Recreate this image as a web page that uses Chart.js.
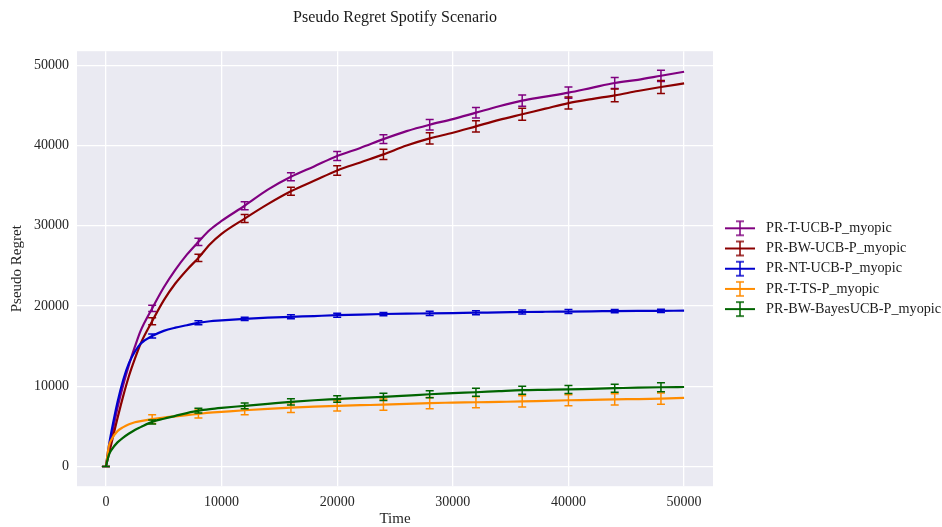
<!DOCTYPE html>
<html>
<head>
<meta charset="utf-8">
<script src="https://cdn.jsdelivr.net/npm/chart.js@4.4.1/dist/chart.umd.min.js"></script>
<style>
  html, body { margin: 0; padding: 0; background: #fff; }
  #wrap { width: 942px; height: 527px; }
</style>
</head>
<body>
<div id="wrap"><canvas id="regretChart" width="942" height="527"></canvas></div>
<script>
// data for pseudo regret (Spotify scenario)

const times = [0, 250, 500, 1000, 1500, 2000, 2500, 3000, 4000, 5000, 6000, 7000, 8000, 9000, 10000,
  12000, 14000, 16000, 18000, 20000, 22000, 24000, 26000, 28000, 30000, 32000, 34000, 36000, 38000,
  40000, 42000, 44000, 46000, 48000, 50000];

const tUcb = [0, 2000, 3800, 7300, 10200, 12700, 14900, 16900, 19700, 22300, 24500, 26400, 28000, 29500, 30600,
  32500, 34500, 36100, 37400, 38700, 39700, 40800, 41800, 42600, 43300, 44100, 44900, 45600, 46100,
  46600, 47200, 47800, 48200, 48700, 49200];

const bwUcb = [0, 1500, 3000, 6000, 8800, 11300, 13400, 15300, 18100, 20700, 22800, 24500, 26000, 27700, 29000,
  30900, 32700, 34300, 35600, 36900, 37900, 38900, 40000, 40900, 41600, 42400, 43200, 43900, 44600,
  45300, 45800, 46250, 46800, 47300, 47750];

const ntUcb = [0, 2500, 4500, 8000, 10800, 12900, 14300, 15300, 16250, 16900, 17300, 17600, 17900, 18100, 18200,
  18400, 18550, 18650, 18750, 18850, 18930, 19000, 19050, 19080, 19120, 19170, 19200, 19250, 19280,
  19300, 19330, 19370, 19390, 19400, 19420];

const tTs = [0, 2500, 3400, 4400, 4900, 5250, 5500, 5650, 5900, 6100, 6250, 6400, 6550, 6700, 6800,
  7000, 7180, 7330, 7450, 7550, 7630, 7700, 7800, 7900, 7950, 8000, 8050, 8100, 8180,
  8250, 8300, 8370, 8400, 8450, 8540];

const bwBayes = [0, 1400, 2100, 3000, 3600, 4100, 4550, 4900, 5550, 5950, 6300, 6650, 6950, 7150, 7300,
  7550, 7800, 8050, 8250, 8400, 8550, 8670, 8830, 9000, 9130, 9250, 9380, 9500, 9550,
  9600, 9680, 9750, 9820, 9870, 9900];

// error bars every 4000 steps (half widths)
const errTimes = [0, 4000, 8000, 12000, 16000, 20000, 24000, 28000, 32000, 36000, 40000, 44000, 48000];
const errTUcb = [0, 400, 450, 500, 500, 550, 550, 650, 650, 700, 700, 700, 700];
const errBwUcb = [0, 450, 450, 500, 500, 600, 650, 700, 700, 750, 750, 800, 800];
const errNtUcb = [0, 250, 250, 200, 250, 250, 200, 250, 250, 250, 250, 200, 200];
const errTTs = [0, 550, 500, 550, 600, 650, 700, 700, 700, 700, 700, 700, 700];
const errBwBayes = [0, 250, 300, 350, 400, 400, 450, 450, 500, 500, 500, 500, 550];

const labels = ['PR-T-UCB-P_myopic', 'PR-BW-UCB-P_myopic', 'PR-NT-UCB-P_myopic', 'PR-T-TS-P_myopic', 'PR-BW-BayesUCB-P_myopic'];
const colors = ['#800080', '#8b0000', '#0000cd', '#ff8c00', '#006400'];
const series = [tUcb, bwUcb, ntUcb, tTs, bwBayes];
const errors = [errTUcb, errBwUcb, errNtUcb, errTTs, errBwBayes];

const xTicks = [0, 10000, 20000, 30000, 40000, 50000];
const yTicks = [0, 10000, 20000, 30000, 40000, 50000];

const FONT = "'Liberation Serif', 'Times New Roman', serif";

// little errorbar icon for the legend (40 wide, icon sits at 6..36)
function legendIcon(color) {
  const c = document.createElement('canvas');
  c.width = 40; c.height = 18;
  const g = c.getContext('2d');
  g.strokeStyle = color;
  g.lineWidth = 2;
  g.beginPath(); g.moveTo(6, 9); g.lineTo(36, 9); g.stroke();
  g.lineWidth = 1.5;
  g.beginPath();
  g.moveTo(21, 2); g.lineTo(21, 16);
  g.moveTo(17, 2); g.lineTo(25, 2);
  g.moveTo(17, 16); g.lineTo(25, 16);
  g.stroke();
  return c;
}

const datasets = series.map((vals, i) => ({
  label: labels[i],
  data: times.map((t, k) => ({x: t, y: vals[k]})),
  borderColor: colors[i],
  backgroundColor: colors[i],
  borderWidth: 2.2,
  pointRadius: 0,
  pointStyle: legendIcon(colors[i]),
  cubicInterpolationMode: 'monotone',
  order: series.length - 1 - i
}));

// plot background like seaborn darkgrid
const bgPlugin = {
  id: 'bg',
  beforeDraw(chart) {
    const {ctx, chartArea: a} = chart;
    ctx.save();
    ctx.fillStyle = '#eaeaf2';
    ctx.fillRect(a.left, a.top, a.right - a.left, a.bottom - a.top);
    ctx.restore();
  }
};

// error bars drawn right after each line
const errPlugin = {
  id: 'errbars',
  afterDatasetDraw(chart, args) {
    const i = args.index;
    const {ctx, scales} = chart;
    const xs = scales.x, ys = scales.y;
    ctx.save();
    ctx.strokeStyle = colors[i];
    ctx.lineWidth = 1.5;
    ctx.beginPath();
    errTimes.forEach((t, k) => {
      const v = series[i][times.indexOf(t)];
      const e = errors[i][k];
      const px = xs.getPixelForValue(t);
      const top = ys.getPixelForValue(v + e);
      const bot = ys.getPixelForValue(v - e);
      ctx.moveTo(px, top); ctx.lineTo(px, bot);
      ctx.moveTo(px - 4, top); ctx.lineTo(px + 4, top);
      ctx.moveTo(px - 4, bot); ctx.lineTo(px + 4, bot);
    });
    ctx.stroke();
    ctx.restore();
  }
};

const config = {
  type: 'line',
  data: {datasets: datasets},
  options: {
    responsive: false,
    animation: false,
    layout: {padding: {left: 8, right: -6, top: 4, bottom: 0}},
    plugins: {
      title: {
        display: true,
        text: 'Pseudo Regret Spotify Scenario',
        color: '#1a1a1a',
        font: {family: FONT, size: 16, weight: 'normal'},
        fullSize: false,
        padding: {top: 4, bottom: 24}
      },
      legend: {
        position: 'right',
        fullSize: false,
        labels: {
          usePointStyle: true,
          pointStyleWidth: 40,
          color: '#1a1a1a',
          font: {family: FONT, size: 14.2},
          padding: 6,
          sort: (a, b) => a.datasetIndex - b.datasetIndex
        }
      },
      tooltip: {enabled: false}
    },
    scales: {
      x: {
        type: 'linear',
        min: -2500,
        max: 52500,
        afterBuildTicks: (s) => { s.ticks = xTicks.map(v => ({value: v})); },
        grid: {color: '#ffffff', lineWidth: 1.3, drawTicks: false},
        border: {display: false},
        ticks: {color: '#262626', font: {family: FONT, size: 14}, padding: 8, maxRotation: 0,
          callback: (v) => String(v)},
        title: {display: true, text: 'Time', color: '#262626', font: {family: FONT, size: 15, lineHeight: 1},
          padding: {top: -7, bottom: 0}}
      },
      y: {
        type: 'linear',
        min: -2465,
        max: 51765,
        afterBuildTicks: (s) => { s.ticks = yTicks.map(v => ({value: v})); },
        grid: {color: '#ffffff', lineWidth: 1.3, drawTicks: false},
        border: {display: false},
        ticks: {color: '#262626', font: {family: FONT, size: 14}, padding: 8,
          callback: (v) => String(v)},
        title: {display: true, text: 'Pseudo Regret', color: '#262626', font: {family: FONT, size: 15}, padding: {top: 0, bottom: 0}}
      }
    }
  },
  plugins: [bgPlugin, errPlugin]
};

const regretChart = new Chart(document.getElementById('regretChart'), config);
</script>
</body>
</html>
